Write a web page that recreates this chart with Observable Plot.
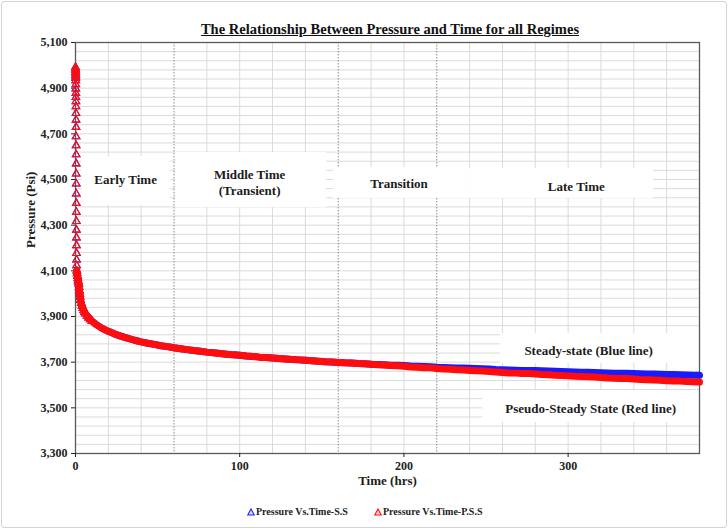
<!DOCTYPE html>
<html>
<head>
<meta charset="utf-8">
<script src="https://cdn.jsdelivr.net/npm/d3@7"></script>
<script src="https://cdn.jsdelivr.net/npm/@observablehq/plot@0.6"></script>
<style>
  html, body { margin: 0; padding: 0; background: #fff; }
  #chart { position: relative; width: 728px; height: 529px; overflow: hidden; font-family: "Liberation Serif", "Times New Roman", serif; }
  #chart > svg { position: absolute; left: 0; top: 0; }
  #border { position: absolute; left: 1px; top: 1px; width: 724px; height: 525px; border: 1px solid #d4d4d4; border-radius: 3px; pointer-events: none; }
  #title { position: absolute; left: 0; width: 780px; top: 21px; text-align: center; font-size: 14.5px; font-weight: bold; text-decoration: underline; color: #111; }
  .legend-item { position: absolute; top: 506px; font-size: 10px; font-weight: bold; color: #222; white-space: nowrap; }
  .legend-item svg { vertical-align: -1px; margin-right: 1px; }
</style>
</head>
<body>
<div id="chart">
  <div id="title">The Relationship Between Pressure and Time for all Regimes</div>
</div>
<script>
// Elapsed time since the start of production (hrs)
const hours = [
  0, 0.02, 0.04, 0.06, 0.08, 0.1, 0.12, 0.14, 0.16, 0.18, 0.2, 0.22, 0.24, 0.26, 0.28, 0.3, 0.32,
  0.34, 0.36, 0.38, 0.4, 0.42, 0.44, 0.46, 0.48, 0.5, 0.52, 0.54, 0.56, 0.58, 0.6, 0.62, 0.64, 0.66,
  0.8, 1.0, 1.2, 1.4, 1.6, 1.8, 2.0, 2.2, 2.4, 2.6, 2.8, 3.0, 3.5, 4.0, 4.5, 5.0, 5.5, 6, 7, 8, 9, 10,
  12, 16, 20, 24, 28, 32, 36, 40, 44, 48, 52, 56, 60, 64, 68, 72, 76, 80, 84, 88, 92, 96, 100,
  104, 108, 112, 116, 120, 124, 128, 132, 136, 140, 144, 148, 152, 156, 160, 164, 168, 172, 176, 180,
  184, 188, 192, 196, 200, 204, 208, 212, 216, 220, 224, 228, 232, 236, 240, 244, 248, 252, 256, 260,
  264, 268, 272, 276, 280, 284, 288, 292, 296, 300, 304, 308, 312, 316, 320, 324, 328, 332, 336, 340,
  344, 348, 352, 356, 360, 364, 368, 372, 376, 380
];

// Well pressure, steady-state boundary (Psi)
const pressureSS = [
  4992, 4985, 4978, 4971, 4964, 4957, 4950, 4943, 4934, 4916, 4897, 4878, 4860, 4842, 4820, 4790, 4761,
  4729, 4688, 4649, 4609, 4569, 4525, 4481, 4437, 4396, 4357, 4317, 4279, 4245, 4211, 4177, 4148, 4123,
  4100, 4088, 4077, 4067, 4058, 4050, 4043, 4028, 4013, 3999, 3985, 3972, 3958, 3946, 3936, 3927, 3920, 3913, 3903, 3894, 3887, 3880,
  3868, 3849, 3835, 3823, 3813, 3804, 3796, 3789, 3783, 3778, 3772, 3768, 3763, 3759, 3755, 3751, 3748, 3744, 3741, 3738, 3735, 3732, 3730,
  3727, 3725, 3722, 3720, 3718, 3716, 3714, 3712, 3710, 3708, 3706, 3704, 3702, 3701, 3699, 3697, 3696, 3694, 3693, 3691,
  3690, 3689, 3687, 3686, 3685, 3683, 3682, 3681, 3680, 3678, 3677, 3676, 3675, 3674, 3673, 3672, 3671, 3670, 3668, 3667,
  3666, 3665, 3664, 3664, 3663, 3662, 3661, 3660, 3659, 3658, 3657, 3656, 3656, 3655, 3654, 3653, 3652, 3652, 3651, 3650,
  3649, 3648, 3648, 3647, 3646, 3646, 3645, 3644, 3643, 3643
];

// Well pressure, pseudo-steady-state (closed) boundary (Psi)
const pressurePSS = [
  4992, 4985, 4978, 4971, 4964, 4957, 4950, 4943, 4934, 4916, 4897, 4878, 4860, 4842, 4820, 4790, 4761,
  4729, 4688, 4649, 4609, 4569, 4525, 4481, 4437, 4396, 4357, 4317, 4279, 4245, 4211, 4177, 4148, 4123,
  4100, 4088, 4077, 4067, 4058, 4050, 4043, 4028, 4013, 3999, 3985, 3972, 3958, 3946, 3936, 3927, 3920, 3913, 3903, 3894, 3887, 3880,
  3868, 3849, 3835, 3823, 3813, 3804, 3796, 3789, 3783, 3778, 3772, 3768, 3763, 3759, 3755, 3751, 3748, 3744, 3741, 3738, 3735, 3732, 3730,
  3727, 3725, 3722, 3720, 3718, 3716, 3714, 3712, 3710, 3708, 3706, 3704, 3702, 3701, 3699, 3697, 3696, 3694, 3693, 3691,
  3689, 3688, 3685, 3684, 3682, 3679, 3678, 3676, 3675, 3672, 3670, 3669, 3667, 3666, 3664, 3662, 3661, 3659, 3657, 3655,
  3653, 3652, 3650, 3650, 3648, 3646, 3645, 3643, 3642, 3640, 3638, 3637, 3636, 3635, 3633, 3631, 3630, 3629, 3628, 3626,
  3624, 3623, 3622, 3621, 3619, 3618, 3617, 3615, 3614, 3613
];

const seriesNames = ["Pressure Vs.Time-S.S", "Pressure Vs.Time-P.S.S"];
const seriesColors = ["#1a1aff", "#ff0d0d"];

// Axis ticks and grid
const xTicks = [0, 100, 200, 300];
const yTicks = [3300, 3500, 3700, 3900, 4100, 4300, 4500, 4700, 4900, 5100];
const regimeBoundaries = [60, 160, 220];

// Regime labels with their white label boxes (in hours / Psi)
const notes = [
  {text: "Early Time", t: 30.5, p: 4505, t1: 4, t2: 58, p1: 4386, p2: 4600},
  {text: "Middle Time\n(Transient)", t: 106, p: 4491, t1: 61, t2: 153, p1: 4377, p2: 4618},
  {text: "Transition", t: 197, p: 4487, t1: 157, t2: 240, p1: 4417, p2: 4553},
  {text: "Late Time", t: 305, p: 4474, t1: 240, t2: 352, p1: 4417, p2: 4548},
  {text: "Steady-state (Blue line)", t: 312.5, p: 3755, t1: 259, t2: 380, p1: 3694, p2: 3826},
  {text: "Pseudo-Steady State (Red line)", t: 313.7, p: 3501, t1: 248, t2: 380, p1: 3436, p2: 3576}
];

const ss = hours.map((t, i) => ({t, p: pressureSS[i]}));
const pss = hours.map((t, i) => ({t, p: pressurePSS[i]}));

const xGrid = d3.range(0, 381, 20).filter(v => !regimeBoundaries.includes(v));
const yGrid = d3.range(3300, 5101, 40);

const plot = Plot.plot({
  width: 728,
  height: 529,
  marginLeft: 75,
  marginRight: 29,
  marginTop: 42,
  marginBottom: 76,
  style: {fontFamily: "'Liberation Serif', 'Times New Roman', serif", fontSize: "12px", fontWeight: "bold", color: "#222", background: "transparent"},
  x: {domain: [0, 380]},
  y: {domain: [3300, 5100]},
  marks: [
    Plot.ruleX(xGrid, {stroke: "#dadada", strokeWidth: 1}),
    Plot.ruleY(yGrid, {stroke: "#dadada", strokeWidth: 1}),
    Plot.ruleX(regimeBoundaries, {stroke: "#8a8a8a", strokeWidth: 1, strokeDasharray: "1.5,1.5"}),
    Plot.rect(notes, {x1: "t1", x2: "t2", y1: "p1", y2: "p2", fill: "white"}),
    Plot.text(notes, {x: "t", y: "p", text: "text", fontSize: 13, fontWeight: "bold", fill: "#1c1c1c", lineHeight: 1.25}),
    Plot.frame({stroke: "#5a5a5a", strokeWidth: 1.3}),
    Plot.axisX({ticks: xTicks, tickSize: 4, tickPadding: 4, label: null, fontSize: 12}),
    Plot.axisY({ticks: yTicks, tickSize: 4, tickPadding: 4, tickFormat: d3.format(","), label: null, fontSize: 12}),
    Plot.text(["Time (hrs)"], {frameAnchor: "bottom", dy: 31, fontSize: 13, fontWeight: "bold", fill: "#1c1c1c"}),
    Plot.text(["Pressure (Psi)"], {frameAnchor: "left", dx: -45, rotate: -90, fontSize: 13, fontWeight: "bold", fill: "#1c1c1c"}),
    // steady-state series first, pseudo-steady-state drawn over it
    Plot.line(ss, {filter: d => d.t >= 0.8, x: "t", y: "p", stroke: seriesColors[0], strokeWidth: 7}),
    Plot.dot(ss, {filter: d => d.t < 12, x: "t", y: "p", symbol: "triangle", r: 2.8, stroke: seriesColors[0], strokeWidth: 1.1, fill: "none"}),
    Plot.line(pss, {filter: d => d.t >= 0.8, x: "t", y: "p", stroke: seriesColors[1], strokeWidth: 7}),
    Plot.dot(pss, {filter: d => d.t < 12, x: "t", y: "p", symbol: "triangle", r: 2.8, stroke: seriesColors[1], strokeWidth: 1.1, fill: "none"})
  ]
});

const chart = document.getElementById("chart");
chart.insertBefore(plot, chart.firstChild);

// legend below the plot
const legendLeft = [247, 374];
seriesNames.forEach((name, i) => {
  const item = document.createElement("div");
  item.className = "legend-item";
  item.style.left = legendLeft[i] + "px";
  item.innerHTML = `<svg width="8" height="8"><polygon points="4,1 7.3,7 0.7,7" fill="${i ? "#ffd6d6" : "#d6d6ff"}" stroke="${seriesColors[i]}" stroke-width="1.1"/></svg>${name}`;
  chart.appendChild(item);
});

const border = document.createElement("div");
border.id = "border";
chart.appendChild(border);
</script>
</body>
</html>
